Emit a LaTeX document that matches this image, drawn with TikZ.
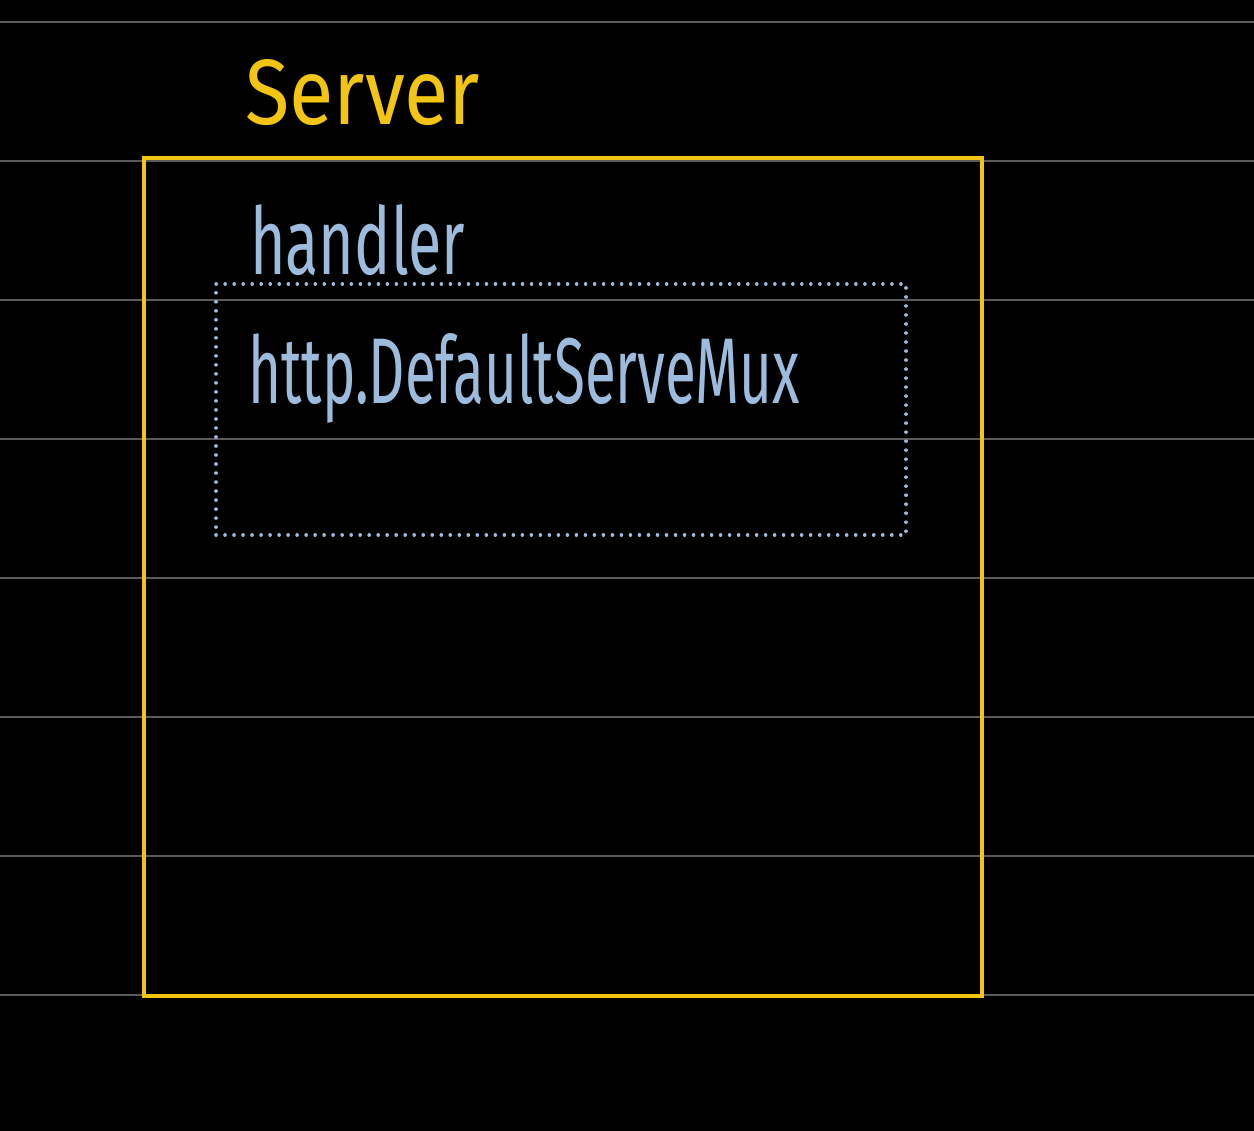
\documentclass[tikz,border=0pt]{standalone}
\usepackage{fontspec}
\setmainfont{Fira Sans}
\definecolor{bg}{HTML}{000000}
\definecolor{ruleline}{HTML}{5A5A5A}
\definecolor{serveryellow}{HTML}{F2C514}
\definecolor{handlerblue}{HTML}{9DBCDD}
\tikzset{
  ruled/.style={draw=ruleline, line width=2pt},
  serverbox/.style={draw=serveryellow, line width=4pt, minimum width=838pt, minimum height=838pt, inner sep=0pt},
  muxbox/.style={draw=handlerblue, line width=3.6pt, line cap=round, dash pattern=on 0.01pt off 9pt, minimum width=690pt, minimum height=251pt, inner sep=0pt},
  label/.style={inner sep=0pt, anchor=base west},
}
\begin{document}
\begin{tikzpicture}[x=1pt,y=-1pt]
\fill[bg] (0,0) rectangle (1254,1131);
\useasboundingbox (0,0) rectangle (1254,1131);
\foreach \yy in {22,161,300,439,578,717,856,995}{
  \draw[ruled] (0,\yy) -- (1254,\yy);
}
\node[serverbox] (server) at (563,577) {};
\node[muxbox] (mux) at (561,409.5) {};
\node[label, text=serveryellow] (servertitle) at (245,125) {\resizebox{235pt}{65pt}{\fontsize{60}{60}\selectfont Server}};
\node[label, text=handlerblue] (handlertitle) at (250,275) {\resizebox{215pt}{70pt}{\fontsize{60}{60}\selectfont handler}};
\node[label, text=handlerblue] (muxtitle) at (248,404) {\resizebox{552pt}{70pt}{\fontsize{60}{60}\selectfont http.DefaultServeMux}};
\end{tikzpicture}
\end{document}
